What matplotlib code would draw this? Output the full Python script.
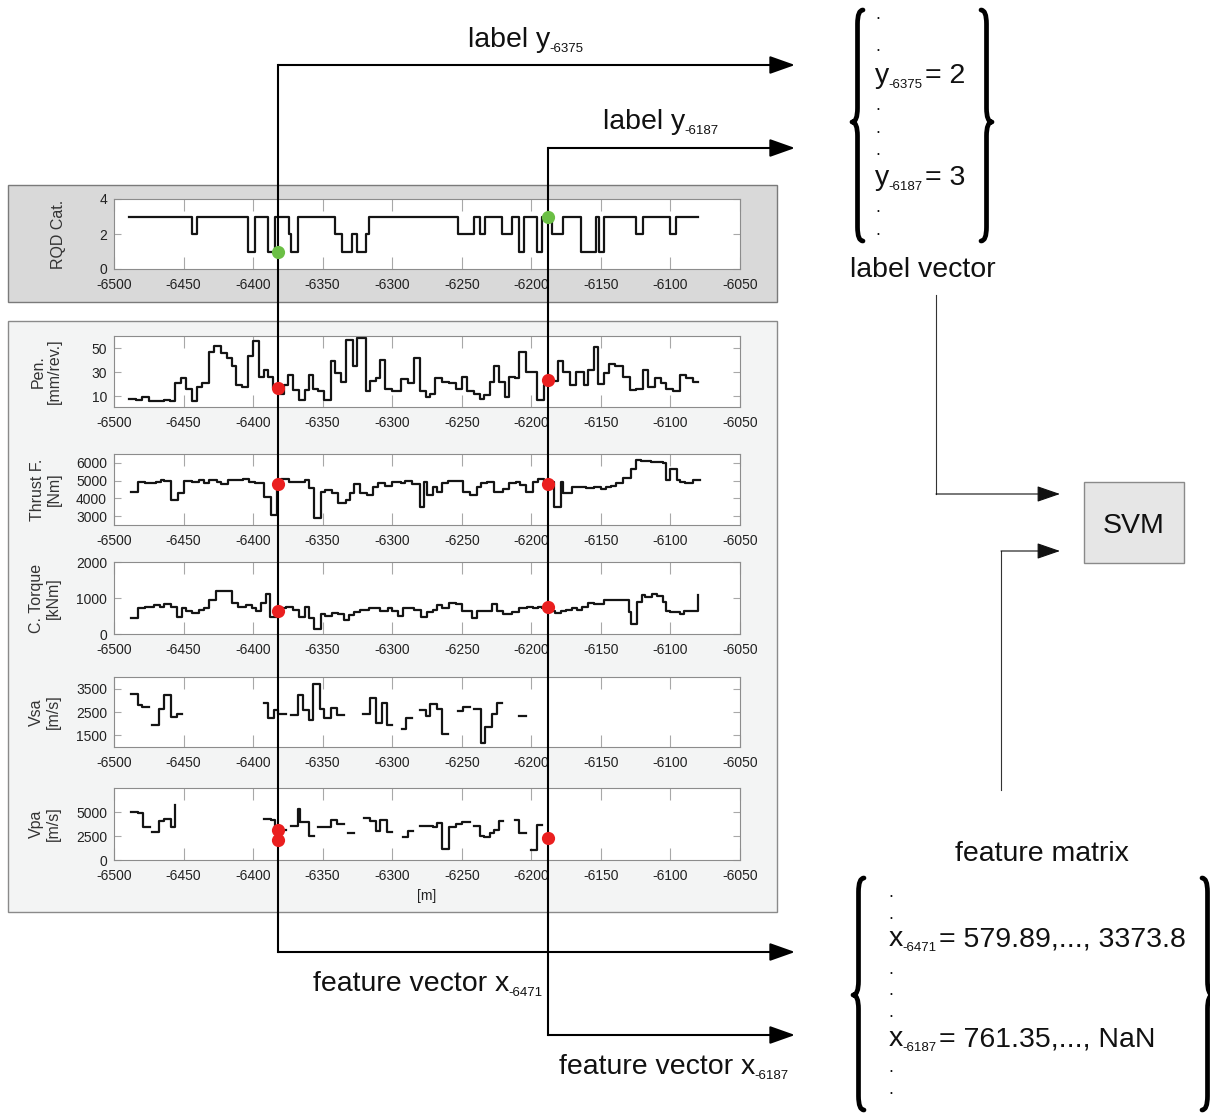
import numpy as np
import matplotlib
matplotlib.use("Agg")
import matplotlib.pyplot as plt
from matplotlib.path import Path
from matplotlib.patches import PathPatch, Rectangle, FancyArrowPatch

plt.rcParams['font.family'] = ['Liberation Sans', 'DejaVu Sans']

nan = np.nan

# ---------------- data ----------------
X_TICKS = [-6500, -6450, -6400, -6350, -6300, -6250, -6200, -6150, -6100, -6050]
X_LABELS = [str(v) for v in X_TICKS]

# chainage of the two highlighted samples
SAMPLE_M = [-6382, -6188]

RQD_EDGES = [-6489, -6444, -6440, -6404, -6399, -6389, -6384, -6374, -6373, -6368,
             -6341, -6336, -6329, -6325, -6319, -6317, -6252.5, -6241, -6237, -6233,
             -6221, -6214, -6209, -6205, -6196, -6192, -6185, -6177, -6164, -6153.5,
             -6151, -6148, -6125, -6119.5, -6100, -6096, -6080]
RQD_VALUES = [3, 2, 3, 1, 3, 1, 3, 2, 1, 3,
              2, 1, 2, 1, 2, 3, 2, 3, 2, 3,
              2, 3, 1, 3, 1, 3, 2, 3, 1, 3,
              1, 3, 2, 3, 2, 3]

PEN_EDGES = [-6489, -6484, -6480, -6475, -6464, -6460, -6456, -6452, -6448, -6444,
             -6440, -6437, -6432, -6428, -6423, -6419, -6415.5, -6412, -6408, -6404,
             -6400, -6396, -6392, -6389, -6386, -6382, -6378, -6375, -6371, -6367,
             -6363, -6360, -6357, -6353, -6349, -6344, -6341, -6337, -6333.5, -6328,
             -6325, -6319, -6316, -6312, -6308.5, -6305, -6300, -6294, -6289, -6284,
             -6280, -6276, -6273, -6269, -6264, -6259, -6254, -6250, -6246, -6241,
             -6237, -6234, -6230, -6226.5, -6223, -6219, -6216, -6212, -6209, -6204,
             -6196, -6191, -6187, -6181, -6177, -6172, -6168, -6162, -6159, -6155,
             -6152, -6148, -6144.5, -6140, -6134, -6129, -6125, -6119.5, -6116, -6111,
             -6107, -6103.5, -6098, -6093, -6088.5, -6084, -6080]
PEN_VALUES = [8, 7, 9, 6, 7, 6, 21, 25, 16, 6,
              18, 21, 47, 52, 46, 42, 35, 19, 18, 43,
              56, 26, 32, 26, 17, 12, 19, 28, 15, 7,
              15, 28, 16, 14, 7, 39, 29, 22, 57, 35,
              58, 14, 23, 25, 40, 16, 14, 24, 21, 42,
              14, 9, 12, 25, 22, 21, 16, 26, 14, 12,
              8, 11, 22, 35, 22, 9, 26, 25, 47, 30,
              7, 19, 23, 39, 30, 19, 30, 19, 32, 51,
              20, 29, 37, 35, 26, 15, 16, 32, 18, 25,
              21, 16, 14, 28, 25, 22]

THR_EDGES = [-6488, -6483, -6478, -6474, -6470, -6466.5, -6464, -6459, -6454, -6450,
             -6444, -6439, -6435, -6432, -6426, -6423, -6418, -6407, -6403, -6399,
             -6392, -6387, -6383, -6380, -6374, -6363, -6360, -6356, -6351, -6348,
             -6343, -6339, -6333.5, -6330, -6327.5, -6323, -6318, -6314, -6310, -6305,
             -6300, -6294, -6291, -6286, -6280, -6277.5, -6275, -6271, -6268, -6264,
             -6260, -6249, -6244, -6239, -6236, -6232, -6227, -6220.5, -6216, -6211,
             -6208, -6204, -6199, -6195.5, -6191, -6184, -6179, -6177, -6171, -6167,
             -6160.5, -6155, -6150, -6146, -6143, -6139, -6134, -6128.5, -6125, -6121,
             -6114, -6105, -6103.5, -6100, -6095.5, -6093, -6089.5, -6084, -6078.5]
THR_VALUES = [4380, 4940, 4880, 4840, 4940, 5030, 4990, 3910, 4280, 4990,
              4940, 5030, 4880, 5030, 4940, 4790, 5030, 5070, 4940, 4880,
              4060, 3070, 4840, 5070, 4940, 5030, 4560, 2890, 4380, 4470,
              4280, 3760, 3910, 4320, 4810, 4280, 4190, 4660, 4880, 4690,
              4940, 4880, 4990, 4810, 3500, 4940, 4190, 4660, 4380, 4880,
              4990, 4380, 4190, 4660, 4840, 4940, 4380, 4510, 4840, 4940,
              4750, 4380, 4940, 5070, 4940, 3540, 4940, 4280, 4660, 4620,
              4560, 4660, 4510, 4660, 4690, 4880, 5120, 5680, 6150, 6110,
              6050, 6000, 5030, 5680, 5030, 4940, 4840, 5030]

TRQ_EDGES = [-6488, -6483, -6478, -6471, -6467, -6464, -6459, -6455, -6451, -6448,
             -6444, -6439, -6435, -6432, -6427, -6415.5, -6411, -6405, -6401, -6398,
             -6394, -6391, -6388, -6382, -6376, -6371, -6367, -6363, -6360, -6356,
             -6351, -6348, -6343, -6339, -6335, -6331, -6327.5, -6323, -6317, -6314,
             -6308.5, -6303, -6300, -6296, -6292, -6284, -6279, -6275, -6271, -6268,
             -6264, -6259, -6254, -6250, -6243, -6239, -6228, -6225, -6220.5, -6214,
             -6209, -6203, -6199, -6195.5, -6192, -6187, -6183, -6178.5, -6175, -6171,
             -6167, -6163.5, -6159, -6155, -6148, -6130, -6128.5, -6124, -6120.5, -6118,
             -6113.5, -6110, -6105, -6103.5, -6100, -6093, -6090, -6080, -6080]
TRQ_VALUES = [437, 735, 763, 809, 763, 828, 763, 484, 716, 642,
              577, 670, 716, 949, 1181, 856, 763, 809, 716, 642,
              856, 1107, 484, 716, 763, 670, 484, 763, 437, 140,
              549, 512, 577, 549, 391, 530, 605, 670, 735, 716,
              642, 716, 642, 512, 735, 670, 484, 605, 670, 809,
              735, 856, 828, 642, 437, 642, 828, 642, 549, 605,
              735, 763, 716, 763, 735, 642, 577, 642, 670, 735,
              670, 763, 856, 828, 949, 623, 270, 902, 1088, 1014,
              1107, 1042, 902, 642, 605, 549, 642, 1088]

VSA_EDGES = [-6488, -6483, -6480, -6475, -6473, -6468, -6464, -6459, -6455, -6451,
             -6392, -6389, -6385, -6382, -6376, -6373, -6368, -6364, -6360, -6357,
             -6352, -6349, -6344, -6340, -6335, -6321, -6316, -6312, -6307.5, -6304,
             -6300, -6293, -6290, -6286, -6280, -6276, -6273, -6268, -6264, -6260,
             -6253, -6249, -6244, -6241, -6236.5, -6233, -6228, -6225, -6221, -6209,
             -6204]
VSA_VALUES = [3290, 2800, 2700, nan, 1950, 2650, 3250, 2300, 2400, nan,
              2870, 2230, 2580, 2400, nan, 2370, 3220, 2580, 2160, 3680,
              2630, 2230, 2680, 2370, nan, 2400, 3080, 2020, 2870, 1950,
              nan, 1770, 2260, nan, 2580, 2350, 2840, 2650, 1570, nan,
              2540, 2720, nan, 2650, 1180, 1840, 2400, 2870, nan, 2330]

VPA_EDGES = [-6488, -6483, -6479, -6474, -6473, -6468, -6464, -6459, -6456, -6456,
             -6392, -6387, -6384.5, -6382, -6376, -6373, -6368, -6366, -6360, -6356,
             -6353, -6344, -6340, -6335, -6332, -6327.5, -6320, -6316, -6312, -6308.5,
             -6304, -6300, -6292.5, -6289, -6285, -6280, -6275, -6271, -6268, -6264,
             -6259, -6254, -6250, -6244, -6241, -6237, -6234, -6230, -6226.5, -6223,
             -6220.5, -6212, -6209, -6204, -6200.5, -6196, -6192]
VPA_VALUES = [5000, 4890, 3415, nan, 2890, 4050, 4300, 3415, 5700, nan,
              4300, 4190, 3240, 3130, nan, 3590, 5350, 3940, 2535, nan,
              3415, 4190, 3770, nan, 2780, nan, 4400, 4050, 3060, 4120,
              2890, nan, 2430, 2990, nan, 3490, 3590, 3415, 3840, 1130,
              3415, 3770, 3940, nan, 3590, 2535, 2360, 2780, 3130, 4050,
              nan, 4190, 2780, nan, 1020, 3660]

# values picked at the two sample positions
RQD_PICK = [1, 3]
PEN_PICK = [[16.8], [23.4]]
THR_PICK = [[4810], [4810]]
TRQ_PICK = [[642], [753]]
VPA_PICK = [[3100, 2070], [2280]]

# ---------------- layout ----------------
W, H = 1210, 1113
fig = plt.figure(figsize=(W / 100, H / 100), dpi=100)

back = fig.add_axes([0, 0, 1, 1], zorder=0)
back.set_xlim(0, W); back.set_ylim(H, 0); back.axis('off')

front = fig.add_axes([0, 0, 1, 1], zorder=10)
front.set_xlim(0, W); front.set_ylim(H, 0); front.axis('off')
front.patch.set_visible(False)

# panel backgrounds
back.add_patch(Rectangle((8, 185), 769, 117, fc='#d9d9d9', ec='#7a7a7a', lw=1))
back.add_patch(Rectangle((8, 321), 769, 591, fc='#f3f4f4', ec='#8a8a8a', lw=1))

AX_L, AX_R = 114, 740
TRACE = '#141414'


def make_panel(top, bottom, ylim, yticks, ylabel, label_x):
    ax = fig.add_axes([AX_L / W, 1 - bottom / H, (AX_R - AX_L) / W, (bottom - top) / H], zorder=1)
    ax.set_facecolor('white')
    ax.set_xlim(-6500, -6050)
    ax.set_ylim(*ylim)
    ax.set_xticks(X_TICKS, labels=X_LABELS)
    ax.set_yticks(yticks, labels=[str(v) for v in yticks])
    ax.tick_params(axis='both', direction='in', top=True, right=True, colors='#a8a8a8',
                   labelcolor='#222222', labelsize=10, width=0.8)
    ax.tick_params(axis='x', length=8.5, pad=6.5)
    ax.tick_params(axis='y', length=5, pad=5)
    for s in ax.spines.values():
        s.set_color('#8c8c8c')
        s.set_linewidth(0.8)
    ax.set_ylabel(ylabel, fontsize=11.5, color='#333333', va='center', linespacing=1.1)
    ax.yaxis.set_label_coords((label_x - AX_L) / (AX_R - AX_L), 0.5)
    return ax


def draw_steps(ax, edges, values):
    assert len(edges) == len(values) + 1
    ax.step(edges, list(values) + [values[-1]], where='post', color=TRACE, lw=1.6)


ax_rqd = make_panel(199, 269, (0, 4), [0, 2, 4], 'RQD Cat.', 58)
ax_pen = make_panel(336, 407, (1, 60), [10, 30, 50], 'Pen.\n[mm/rev.]', 46)
ax_thr = make_panel(454, 525, (2500, 6500), [3000, 4000, 5000, 6000], 'Thrust F.\n[Nm]', 46)
ax_trq = make_panel(562, 634, (0, 2000), [0, 1000, 2000], 'C. Torque\n[kNm]', 45)
ax_vsa = make_panel(677, 747, (1000, 4000), [1500, 2500, 3500], 'Vsa\n[m/s]', 45)
ax_vpa = make_panel(788, 860, (0, 7500), [0, 2500, 5000], 'Vpa\n[m/s]', 45)

draw_steps(ax_rqd, RQD_EDGES, RQD_VALUES)
draw_steps(ax_pen, PEN_EDGES, PEN_VALUES)
draw_steps(ax_thr, THR_EDGES, THR_VALUES)
draw_steps(ax_trq, TRQ_EDGES, TRQ_VALUES)
draw_steps(ax_vsa, VSA_EDGES, VSA_VALUES)
draw_steps(ax_vpa, VPA_EDGES, VPA_VALUES)

front.text(427, 896, '[m]', fontsize=10, color='#222222', ha='center', va='center')

# pixel x of the sample lines, taken from the panel scale
line_px = [front.transData.inverted().transform(ax_rqd.transData.transform((m, 0)))[0]
           for m in SAMPLE_M]

LW = 1.5
ARROW_X = 795


def arrow(x0, y0, x1, y1, lw=LW, color='k', hl=1.55, hw=0.55):
    front.add_patch(FancyArrowPatch((x0, y0), (x1, y1),
                                    arrowstyle=f'-|>,head_length={hl},head_width={hw}',
                                    mutation_scale=10, lw=lw, color=color,
                                    shrinkA=0, shrinkB=0, zorder=3))


# sample lines and the arrows leading to the label / feature vectors
front.plot([line_px[0], line_px[0]], [65, 952], color='k', lw=LW, zorder=2)
front.plot([line_px[1], line_px[1]], [148, 1035], color='k', lw=LW, zorder=2)
arrow(line_px[0], 65, ARROW_X, 65)
arrow(line_px[1], 148, ARROW_X, 148)
arrow(line_px[0], 952, ARROW_X, 952)
arrow(line_px[1], 1035, ARROW_X, 1035)

# picked values on each panel
for i, m in enumerate(SAMPLE_M):
    front.plot([m], [RQD_PICK[i]], 'o', ms=9.5, color='#6bbf45', mec='none',
               transform=ax_rqd.transData, clip_on=False, zorder=5)
    for ax, picks in ((ax_pen, PEN_PICK), (ax_thr, THR_PICK), (ax_trq, TRQ_PICK), (ax_vpa, VPA_PICK)):
        for v in picks[i]:
            front.plot([m], [v], 'o', ms=9.5, color='#ea1f1f', mec='none',
                       transform=ax.transData, clip_on=False, zorder=5)

TXT = '#111111'
BIG = 20.5
SUB = 9.5


def sub_text(x, y, main, sub, tail=None, size=BIG):
    t = front.text(x, y, main, fontsize=size, color=TXT, ha='left', va='baseline')
    s = front.annotate(sub, xy=(1, 0), xycoords=t, xytext=(-0.5, -1.5),
                       textcoords='offset points', fontsize=SUB, color=TXT,
                       ha='left', va='bottom')
    if tail is not None:
        front.annotate(tail, xy=(1, 0), xycoords=(s, t), xytext=(1.5, 0),
                       textcoords='offset points', fontsize=size, color=TXT,
                       ha='left', va='bottom')


sub_text(468, 47, 'label y', '-6375')
sub_text(603, 129, 'label y', '-6187')
sub_text(313, 991, 'feature vector x', '-6471')
sub_text(559, 1074, 'feature vector x', '-6187')

# label vector
sub_text(875, 83, 'y', '-6375', '= 2')
sub_text(875, 185, 'y', '-6187', '= 3')
for yd in [17, 49, 108, 131, 153, 210, 233]:
    front.text(878, yd + 2, '.', fontsize=13, color=TXT, ha='center', va='baseline')
front.text(923, 277, 'label vector', fontsize=BIG, color=TXT, ha='center', va='baseline')

# feature matrix
front.text(1042, 861, 'feature matrix', fontsize=BIG, color=TXT, ha='center', va='baseline')
sub_text(889, 946, 'x', '-6471', '= 579.89,..., 3373.8')
sub_text(889, 1046, 'x', '-6187', '= 761.35,..., NaN')
for yd in [895, 917, 972, 993, 1015, 1070, 1092]:
    front.text(891, yd + 2, '.', fontsize=13, color=TXT, ha='center', va='baseline')


def brace(x_end, x_arm, x_tip, y_top, y_mid, y_bot, r=14):
    verts = [(x_end, y_top), (x_arm, y_top), (x_arm, y_top + r),
             (x_arm, y_mid - r), (x_arm, y_mid), (x_tip, y_mid),
             (x_arm, y_mid), (x_arm, y_mid + r),
             (x_arm, y_bot - r), (x_arm, y_bot), (x_end, y_bot)]
    codes = [Path.MOVETO, Path.CURVE3, Path.CURVE3, Path.LINETO, Path.CURVE3, Path.CURVE3,
             Path.CURVE3, Path.CURVE3, Path.LINETO, Path.CURVE3, Path.CURVE3]
    front.add_patch(PathPatch(Path(verts, codes), fc='none', ec='k', lw=3.4,
                              capstyle='round', joinstyle='round', zorder=3))


brace(863, 857.5, 852, 10, 122, 241)
brace(981, 986.5, 992, 10, 122, 241)
brace(864, 858.5, 853, 878, 995, 1110)
brace(1202, 1207.5, 1213, 878, 995, 1110)

# SVM block and its inputs
front.add_patch(Rectangle((1084, 482), 100, 81, fc='#e6e6e6', ec='#8a8a8a', lw=1, zorder=2))
front.text(1134, 533, 'SVM', fontsize=BIG, color=TXT, ha='center', va='baseline')
front.plot([936, 936], [295, 494], color='#333333', lw=0.8)
arrow(936, 494, 1060, 494, lw=0.8, color='#111111', hl=1.45, hw=0.5)
front.plot([1001, 1001], [790, 551], color='#333333', lw=0.8)
arrow(1001, 551, 1060, 551, lw=0.8, color='#111111', hl=1.45, hw=0.5)

fig.savefig('out.png', dpi=100)
